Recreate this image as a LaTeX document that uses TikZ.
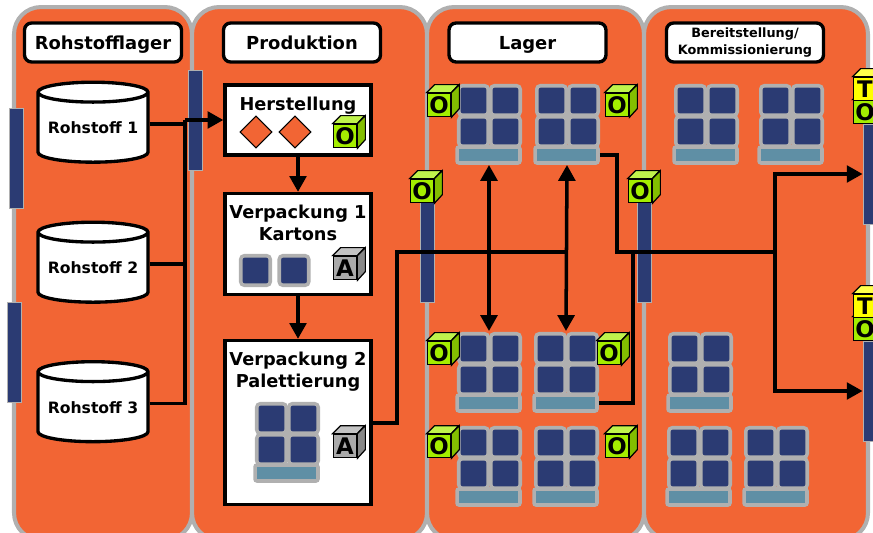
\documentclass[tikz,border=0pt]{standalone}
\usepackage{fontspec}
\setmainfont{DejaVu Sans}
\usepackage{xcolor}
\usetikzlibrary{shapes.geometric, arrows.meta, positioning, calc}
\definecolor{laneorange}{HTML}{F26534}
\definecolor{lanegray}{HTML}{B0B0B0}
\definecolor{palblue}{HTML}{2B3B73}
\definecolor{palteal}{HTML}{5F8FA5}
\definecolor{cubegreen}{HTML}{A4EE00}
\definecolor{cubegray}{HTML}{AAAAAA}
\definecolor{cubeyellow}{HTML}{FFFF00}
\tikzset{
  lane/.style={draw=lanegray, fill=laneorange, line width=2.3pt, rounded corners=0.54cm, minimum height=10.66cm},
  gate/.style={draw=lanegray, fill=palblue, line width=0.5pt, minimum width=0.28cm, minimum height=2cm, inner sep=0},
  lanetitle/.style={draw, fill=white, line width=1.9pt, rounded corners=0.14cm, minimum width=3.14cm, minimum height=0.78cm, inner sep=0, align=center, font=\bfseries\fontsize{10.2}{12}\selectfont},
  titleline/.style={text height=0.36cm, text depth=0.06cm},
  tank/.style={cylinder, shape border rotate=90, aspect=0.22, draw, fill=white, line width=1.9pt, minimum width=2.2cm, minimum height=1.6cm, inner sep=0, font=\bfseries\fontsize{8.9}{10}\selectfont},
  procbox/.style={draw, fill=white, line width=1.9pt, minimum width=2.92cm, inner sep=0},
  boxtext/.style={align=center, inner sep=0, font=\bfseries\fontsize{10.1}{12.5}\selectfont},
  palback/.style={fill=lanegray, minimum size=0.3cm, inner sep=0},
  palsq/.style={draw=lanegray, fill=palblue, line width=2pt, rounded corners=0.07cm, minimum size=0.59cm, inner sep=0},
  palbase/.style={draw=lanegray, fill=palteal, line width=2pt, rounded corners=0.04cm, minimum width=1.26cm, minimum height=0.32cm, inner sep=0},
  cubeface/.style={draw, line width=0.7pt, minimum size=0.47cm, inner sep=0},
  rhomb/.style={draw, fill=laneorange, line width=0.6pt, diamond, minimum size=0.64cm, inner sep=0},
  flow/.style={line width=2pt},
  flowtip/.style={flow, -{Triangle[length=9pt,width=9.5pt]}},
  flowboth/.style={flow, {Triangle[length=9pt,width=9.5pt]}-{Triangle[length=9pt,width=9.5pt]}}
}
\newcommand{\palette}[3]{
  \node[palback] (#1back) at (#2+33.5,#3+33) {};
  \node[palsq] (#1a) at (#2+17.5,#3+17.5) {};
  \node[palsq] (#1b) at (#2+49.5,#3+17.5) {};
  \node[palsq] (#1c) at (#2+17.5,#3+48.5) {};
  \node[palsq] (#1d) at (#2+49.5,#3+48.5) {};
  \node[palbase] (#1base) at (#2+32.5,#3+72) {};
  \coordinate (#1top) at (#2+33,#3);
  \coordinate (#1bot) at (#2+33,#3+82);
}
\newcommand{\qcube}[5]{
  \node[cubeface, fill=#5] (#1) at (#2+12,#3+20) {};
  \draw[line width=0.7pt, fill=#5!70!white] (#1.north west) -- ++(8,-8) -- ++(24,0) -- (#1.north east) -- cycle;
  \draw[line width=0.7pt, fill=#5!80!black] (#1.north east) -- ++(8,-8) -- ++(0,24) -- (#1.south east) -- cycle;
  \node[inner sep=0, font=\bfseries\fontsize{13}{13}\selectfont] (#1txt) at (#1) {#4};
}
\begin{document}
\begin{tikzpicture}[x=0.02cm, y=-0.02cm]
\useasboundingbox (0,0) rectangle (873,533);
\clip (0,0) rectangle (873,533);

\node[lane, minimum width=3.56cm] (lanerohstoff) at (103,273.5) {};
\node[lane, minimum width=4.7cm] (laneprod) at (309.5,273.5) {};
\node[lane, minimum width=4.34cm] (lanelager) at (535.5,273.5) {};
\node[lane, minimum width=4.48cm] (lanebereit) at (756,273.5) {};

\node[gate] (gate1) at (16,158.5) {};
\node[gate] (gate2) at (14.5,352.5) {};
\node[gate] (gate3) at (195,120) {};
\node[gate] (gate4) at (427,252) {};
\node[gate] (gate5) at (644.5,252) {};
\node[gate, minimum width=0.56cm] (gate6) at (877,174) {};
\node[gate, minimum width=0.56cm] (gate7) at (877,391) {};

\node[lanetitle, titleline] (trohstoff) at (103,42.5) {Rohstofflager};
\node[lanetitle, titleline] (tprod) at (302,42.5) {Produktion};
\node[lanetitle, titleline] (tlager) at (527.5,42.5) {Lager};
\node[lanetitle, font=\bfseries\fontsize{7.3}{9.2}\selectfont] (tbereit) at (745,42.5) {Bereitstellung/\\Kommissionierung};

\node[tank] (rs1) at (93,128) {Rohstoff 1};
\node[tank] (rs2) at (93,268) {Rohstoff 2};
\node[tank] (rs3) at (93,407.5) {Rohstoff 3};

\node[procbox, minimum height=1.4cm] (herst) at (298,120) {};
\node[boxtext] (hersttxt) at (298,106) {Herstellung};
\node[rhomb] (rhomb1) at (256,132) {};
\node[rhomb] (rhomb2) at (295,132) {};
\qcube{cherst}{333}{116}{O}{cubegreen}

\node[procbox, minimum height=2.02cm] (verp1) at (298,244) {};
\node[boxtext] (verp1txt) at (298,223) {Verpackung 1\\Kartons};
\node[palsq] (karton1) at (255.5,270.5) {};
\node[palsq] (karton2) at (294,270.5) {};
\qcube{cverp1}{333}{248}{A}{cubegray}

\node[procbox, minimum height=3.28cm] (verp2) at (298,422.5) {};
\node[boxtext] (verp2txt) at (298,372) {Verpackung 2\\Palettierung};
\palette{palv}{254}{401}
\qcube{cverp2}{333}{426}{A}{cubegray}

\palette{lag1}{456}{83}
\palette{lag2}{534}{83}
\palette{lag3}{456}{331}
\palette{lag4}{533}{331}
\palette{lag5}{456}{425}
\palette{lag6}{533}{425}
\palette{ber1}{673}{83}
\palette{ber2}{758}{83}
\palette{ber3}{667}{331}
\palette{ber4}{666}{425}
\palette{ber5}{743}{425}

\coordinate (jrs) at (185,120);
\coordinate (jlag) at (397,252);
\coordinate (jmid) at (566,252);
\coordinate (jout) at (775,252);
\coordinate (rs1out) at ($(rs1.east)+(0,-4)$);
\coordinate (rs2out) at ($(rs2.east)+(0,-4)$);
\coordinate (rs3out) at ($(rs3.east)+(0,-4)$);
\draw[flow] (rs3out) -| (jrs);
\draw[flow] (rs2out) -- (jrs|-rs2out);
\draw[flow] (rs1out) -- (jrs|-rs1out);
\draw[flowtip] (jrs) -- (herst.west);
\draw[flowtip] (herst.south) -- (verp1.north);
\draw[flowtip] (verp1.south) -- (verp2.north);
\draw[flow] (verp2.east|-0,423) -| (jlag) -- (jmid);
\draw[flowboth] (lag1bot) -- (lag3top);
\draw[flowboth] (lag2bot) -- (lag4top);
\draw[flow] (lag2base.east) -| (617,252) -- (jout);
\draw[flow] (lag4base.east) -| (633,252);
\draw[flowtip] (jout) |- (gate6.west);
\draw[flowtip] (jout) |- (gate7.west);

\qcube{clag1}{427}{85}{O}{cubegreen}
\qcube{clag2}{605}{85}{O}{cubegreen}
\qcube{clag3}{427}{333}{O}{cubegreen}
\qcube{clag4}{597}{333}{O}{cubegreen}
\qcube{clag5}{427}{426}{O}{cubegreen}
\qcube{clag6}{605}{426}{O}{cubegreen}
\qcube{cgate4}{410}{171}{O}{cubegreen}
\qcube{cgate5}{628}{171}{O}{cubegreen}
\qcube{cout1o}{853}{92}{O}{cubegreen}
\qcube{cout1t}{853}{69}{T}{cubeyellow}
\qcube{cout2o}{853}{309}{O}{cubegreen}
\qcube{cout2t}{853}{286}{T}{cubeyellow}
\end{tikzpicture}
\end{document}
